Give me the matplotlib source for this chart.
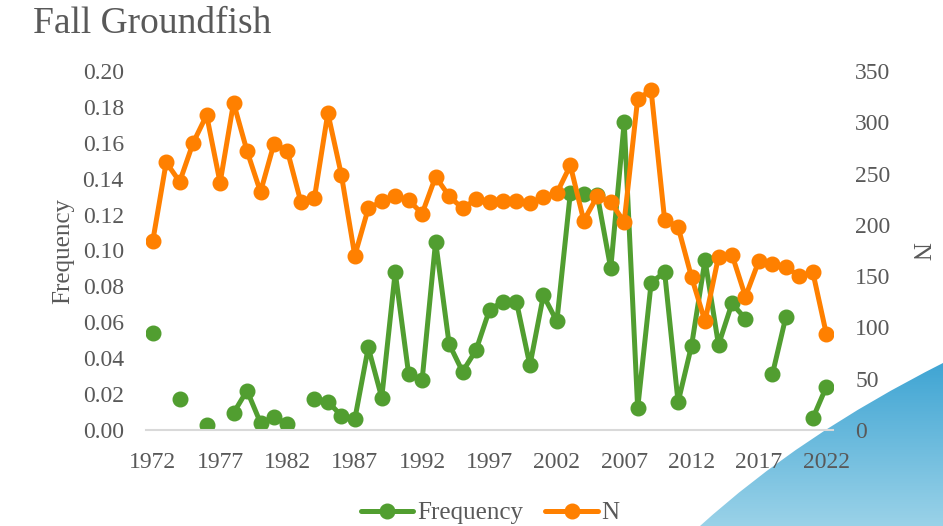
import numpy as np
import matplotlib
matplotlib.use('Agg')
import matplotlib.pyplot as plt
from matplotlib.path import Path
from matplotlib.patches import PathPatch

years = list(range(1972, 2023))

# NaN = no value that year (gaps in the green line)
nan = np.nan
frequency = [0.054, nan, 0.017, nan, 0.003, nan, 0.0095, 0.022, 0.004, 0.007,
             0.0035, nan, 0.0175, 0.0158, 0.008, 0.006, 0.046, 0.018, 0.088, 0.031,
             0.028, 0.105, 0.048, 0.0325, 0.0445, 0.067, 0.0715, 0.0715, 0.036, 0.075,
             0.0605, 0.132, 0.1315, 0.131, 0.090, 0.1715, 0.012, 0.082, 0.088, 0.0155,
             0.047, 0.0947, 0.0474, 0.0705, 0.062, nan, 0.031, 0.063, nan, 0.0065,
             0.024]

n_vals = [184, 261, 242, 280, 307, 241, 319, 272, 232, 279,
          272, 222, 226, 309, 249, 170, 216, 223, 228, 224,
          211, 247, 228, 216, 225, 222, 223, 223, 221, 227,
          231, 258, 204, 228, 222, 203, 323, 331, 205, 198,
          149, 106, 169, 171, 130, 165, 162, 159, 150, 154,
          94]

freq_ticks = [0.00, 0.02, 0.04, 0.06, 0.08, 0.10, 0.12, 0.14, 0.16, 0.18, 0.20]
n_ticks = [0, 50, 100, 150, 200, 250, 300, 350]
year_ticks = list(range(1972, 2023, 5))

green = '#519e30'
orange = '#ff8000'
grey = '#595959'
serif = 'Liberation Serif'

W, H = 943, 526
fig = plt.figure(figsize=(W / 100, H / 100), dpi=100)

# blue swoosh in the corner of the slide
bg = fig.add_axes([0, 0, 1, 1], zorder=-5)
bg.set_xlim(0, W)
bg.set_ylim(H, 0)
bg.axis('off')
verts = [(W, 363), (800, 435), (700, H), (W, H), (W, 363)]
codes = [Path.MOVETO, Path.CURVE3, Path.CURVE3, Path.LINETO, Path.CLOSEPOLY]
swoosh = PathPatch(Path(verts, codes), facecolor='none', edgecolor='none')
bg.add_patch(swoosh)
grad = np.linspace(0, 1, 256).reshape(-1, 1) * np.ones((1, 2))
img = bg.imshow(grad, extent=(690, W, H, 360), aspect='auto',
                cmap=matplotlib.colors.LinearSegmentedColormap.from_list(
                    'sw', ['#3ea4d3', '#9ad2e8']), zorder=1)
img.set_clip_path(swoosh)

left, right = 146 / W, 833 / W
bottom, top = 1 - 430 / H, 1 - 71 / H
ax = fig.add_axes([left, bottom, right - left, top - bottom])
ax.patch.set_alpha(0)
ax2 = ax.twinx()

l1, = ax.plot(years, frequency, color=green, lw=3.6, marker='o', ms=10.5,
              label='Frequency', solid_capstyle='round')
l2, = ax2.plot(years, n_vals, color=orange, lw=3.6, marker='o', ms=10.5,
               label='N', solid_capstyle='round')

ax.set_xlim(1971.5, 2022.5)
ax.set_ylim(0, 0.2)
ax2.set_ylim(0, 350)
ax.set_xticks(year_ticks)
ax.set_yticks(freq_ticks)
ax.set_yticklabels(['%.2f' % t for t in freq_ticks])
ax2.set_yticks(n_ticks)

for a in (ax, ax2):
    for s in a.spines.values():
        s.set_visible(False)
    a.tick_params(length=0, labelsize=17, labelcolor=grey)
    for lab in a.get_xticklabels() + a.get_yticklabels():
        lab.set_fontfamily(serif)
ax.spines['bottom'].set_visible(True)
ax.spines['bottom'].set_color('#d9d9d9')
ax.spines['bottom'].set_linewidth(1.5)
ax.tick_params(axis='x', pad=16)
ax.tick_params(axis='y', pad=16)
ax2.tick_params(axis='y', pad=16)

ax.set_ylabel('Frequency', fontsize=18, color=grey, family=serif, labelpad=6)
ax2.set_ylabel('N', fontsize=18, color=grey, family=serif, rotation=270, labelpad=28)

fig.text(33 / W, 1 - 24 / H, 'Fall Groundfish', fontsize=27, color=grey,
         family=serif, va='center', ha='left')

fig.legend(handles=[l1, l2], loc='center', bbox_to_anchor=(490 / W, 1 - 513 / H),
           ncol=2, frameon=False, handlelength=2.1, handletextpad=0.15,
           columnspacing=0.9, prop={'family': serif, 'size': 18},
           labelcolor=grey)

fig.savefig('out.png', dpi=100)
